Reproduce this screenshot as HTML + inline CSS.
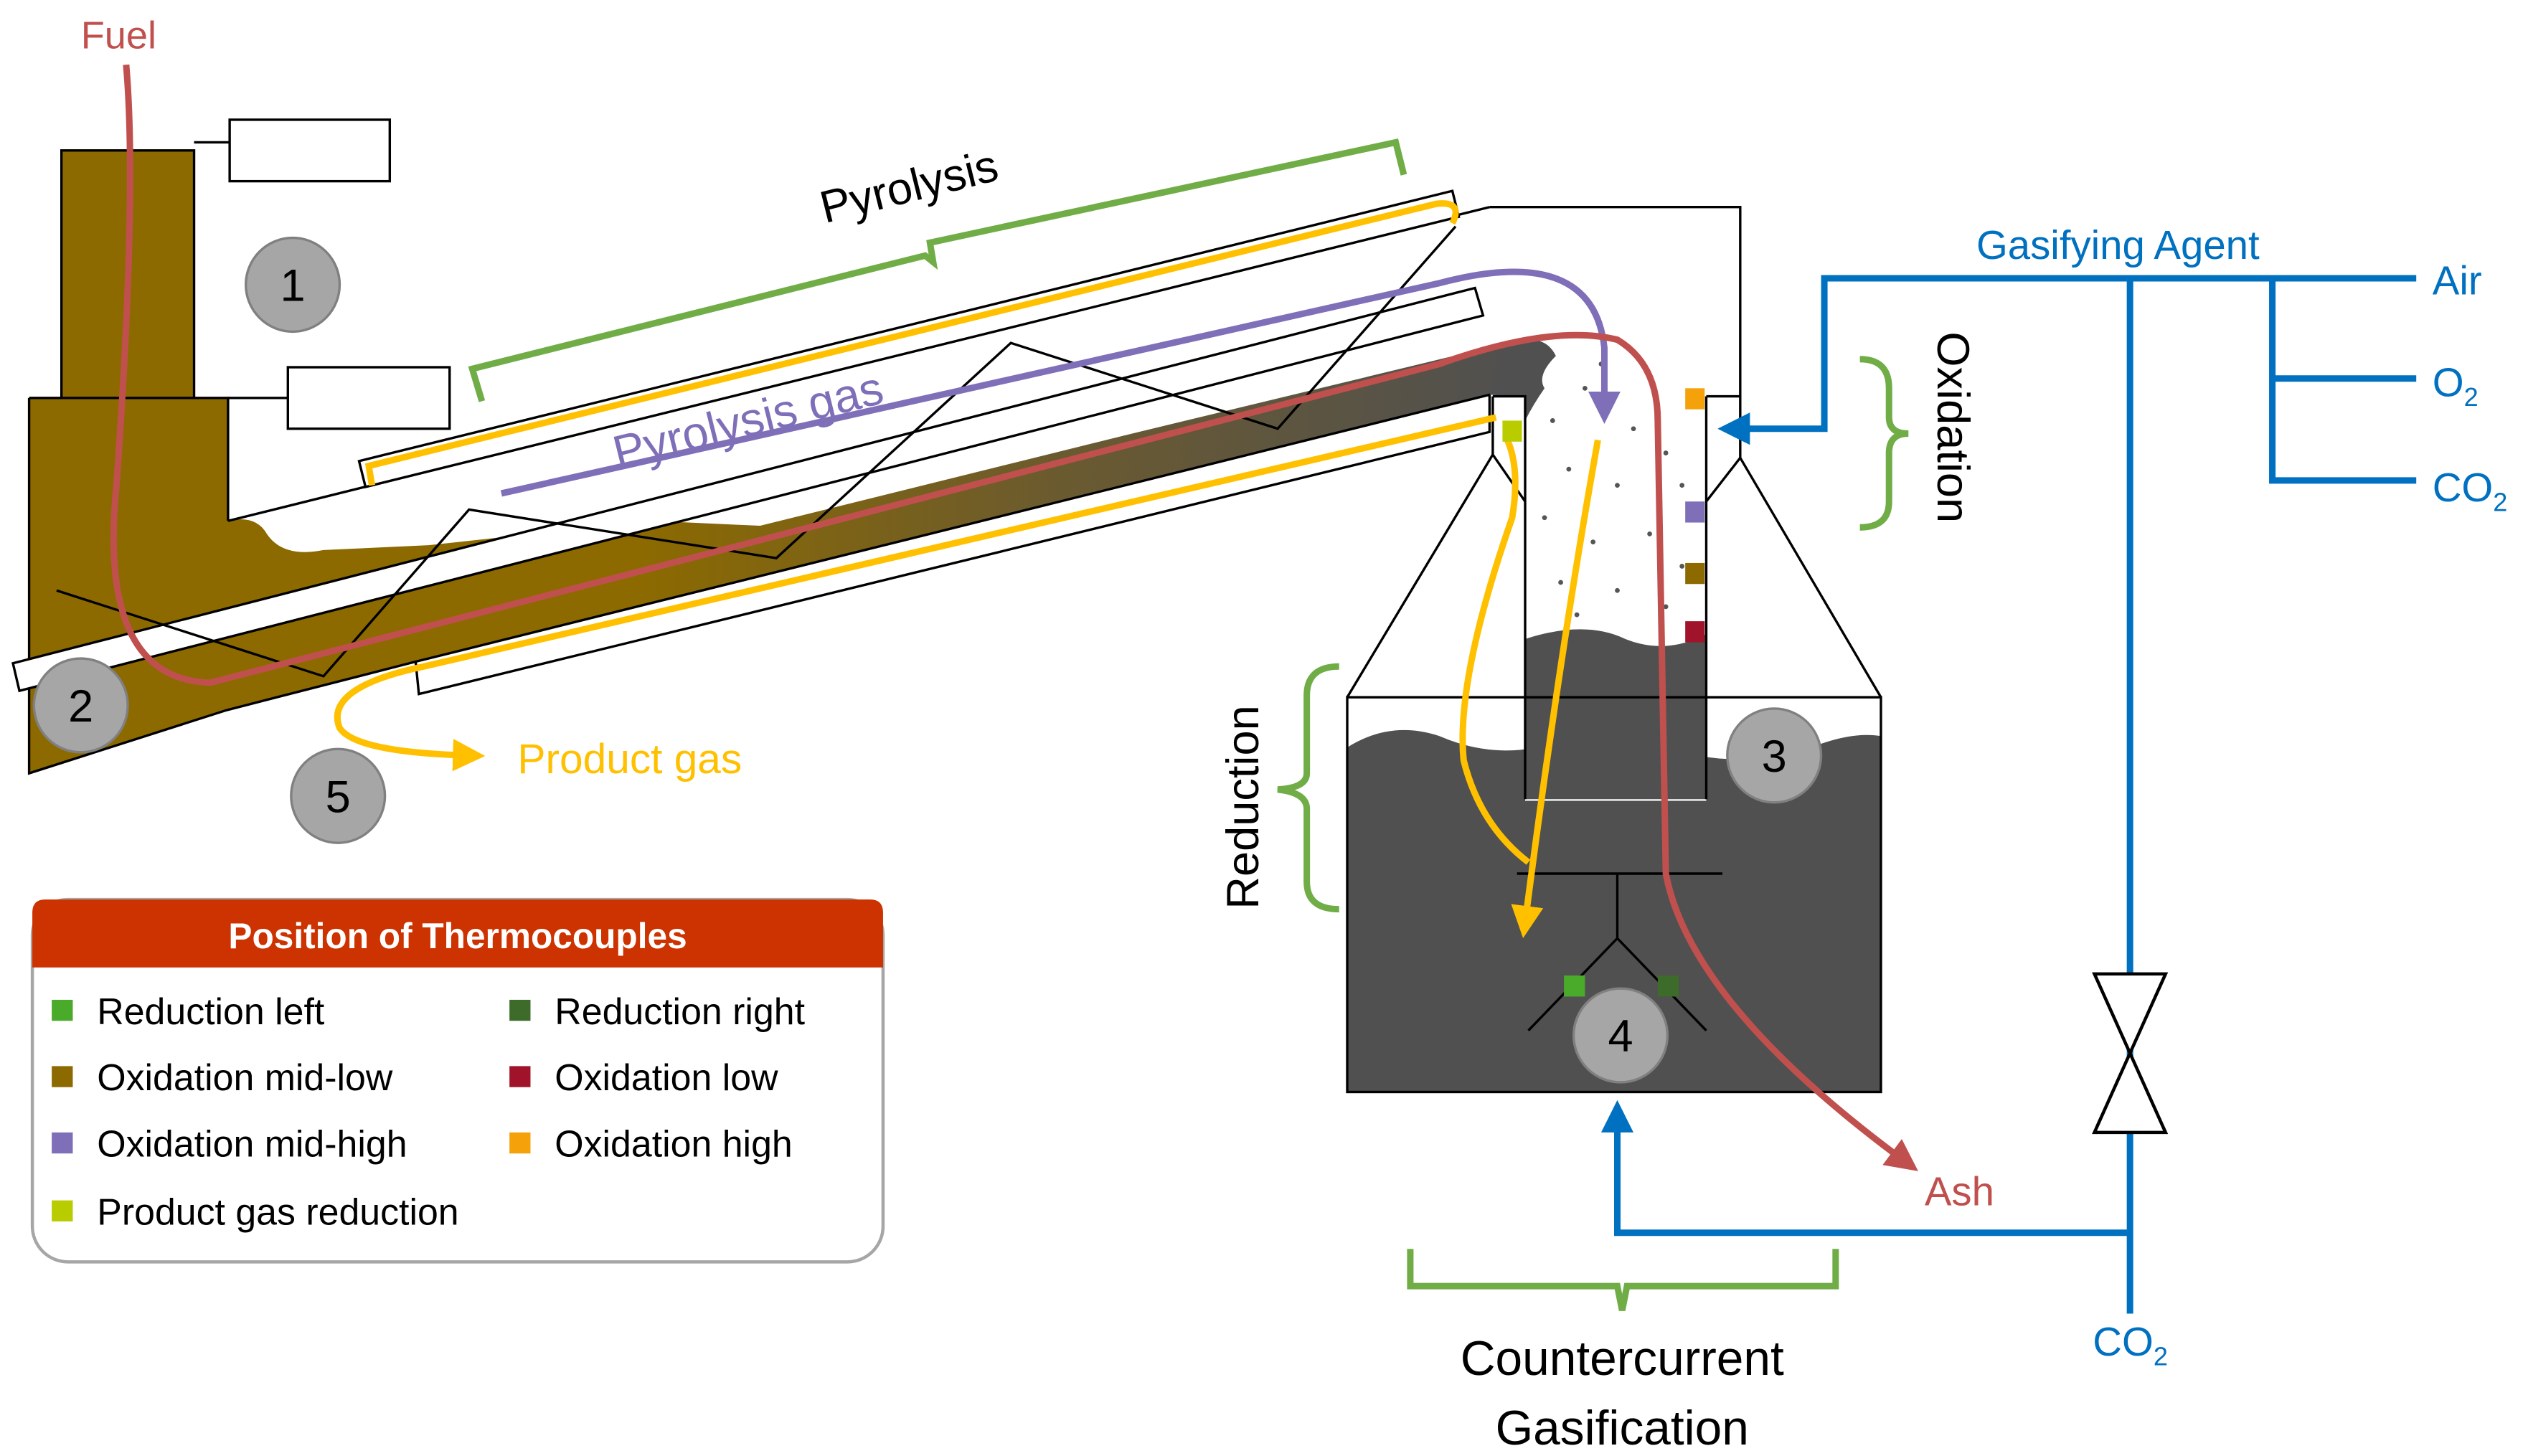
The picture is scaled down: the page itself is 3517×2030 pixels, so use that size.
<!DOCTYPE html>
<html><head><meta charset="utf-8"><style>
html,body{margin:0;padding:0;background:#fff;}
svg{display:block;}
text{font-family:"Liberation Sans",sans-serif;}
</style></head><body>
<svg width="3517" height="2030" viewBox="0 0 1560 900" preserveAspectRatio="none" xmlns="http://www.w3.org/2000/svg">
<defs>
<linearGradient id="bg" gradientUnits="userSpaceOnUse" x1="0" x2="940" y1="0" y2="0">
<stop offset="0" stop-color="#8c6a00"/><stop offset="0.42" stop-color="#8c6a00"/><stop offset="0.7" stop-color="#6a5a30"/><stop offset="1" stop-color="#505050"/>
</linearGradient>
<marker id="ar" viewBox="0 0 10 10" refX="5" refY="5" markerWidth="5" markerHeight="5" orient="auto"><path d="M0,0L10,5L0,10z" fill="#c0504d"/></marker>
<marker id="ay" viewBox="0 0 10 10" refX="5" refY="5" markerWidth="5" markerHeight="5" orient="auto"><path d="M0,0L10,5L0,10z" fill="#ffc000"/></marker>
<marker id="ap" viewBox="0 0 10 10" refX="5" refY="5" markerWidth="5" markerHeight="5" orient="auto"><path d="M0,0L10,5L0,10z" fill="#7f6fb8"/></marker>
<marker id="ab" viewBox="0 0 10 10" refX="5" refY="5" markerWidth="5" markerHeight="5" orient="auto"><path d="M0,0L10,5L0,10z" fill="#0070c0"/></marker>
</defs>

<!-- hopper -->
<rect x="38" y="93" width="82" height="155" fill="#8c6a00" stroke="#000" stroke-width="1.5"/>
<rect x="142" y="74" width="99" height="38" fill="#fff" stroke="#000" stroke-width="1.5"/>
<rect x="178" y="227" width="100" height="38" fill="#fff" stroke="#000" stroke-width="1.5"/>
<line x1="120" y1="88" x2="142" y2="88" stroke="#000" stroke-width="1.5"/>
<line x1="141" y1="246" x2="178" y2="246" stroke="#000" stroke-width="1.5"/>
<!-- brown body -->
<path d="M18,246 L141,246 L141,322 Q158,318 165,330 Q175,345 200,340 L265,337 Q330,330 404,322 L470,325 L700,268 L932,212 Q950,212 943,245 L921,244 L257,409 L140,439 L18,478 Z" fill="url(#bg)" stroke="none"/>
<polyline points="18,246 141,246 141,322" fill="none" stroke="#000" stroke-width="1.5"/>
<polyline points="18,246 18,478 140,439 257,409" fill="none" stroke="#000" stroke-width="1.5"/>
<!-- housing & tubes -->
<line x1="141" y1="322" x2="921" y2="128" stroke="#000" stroke-width="1.5"/>
<polygon points="222,285 898,118 902,134 226,301" fill="#fff" stroke="#000" stroke-width="1.5"/>
<polygon points="8,410 912,178 917,195 12,427" fill="#fff" stroke="#000" stroke-width="1.5"/>
<polygon points="257,409 921,244 921,267 259,429" fill="#fff" stroke="#000" stroke-width="1.5"/>
<polyline points="35,365 200,418 290,315 480,345 625,212 790,265 900,140" fill="none" stroke="#000" stroke-width="1.5"/>
<!-- gasifier -->
<polyline points="921,128 1076,128 1076,245 1055,245" fill="none" stroke="#000" stroke-width="1.5"/>
<polygon points="923,281 833,431 833,675 1163,675 1163,431 1076,283 1055,310 1055,494 943,494 943,310" fill="#fff" stroke="none"/>
<path d="M833,462 Q860,445 890,455 Q920,468 950,462 Q1000,452 1040,465 Q1080,475 1120,462 Q1145,452 1163,455 L1163,675 L833,675 Z" fill="#505050"/>
<rect x="943" y="245" width="112" height="250" fill="#fff"/>
<path d="M943,395 Q980,383 1005,395 Q1030,405 1055,392 L1055,494 L943,494 Z" fill="#505050"/>
<path d="M921,244 L932,212 Q955,205 962,220 Q950,232 955,240 Q948,250 943,260 L943,245 Z" fill="#505050"/>
<g stroke="#000" stroke-width="1.5" fill="none">
<polyline points="923,245 943,245 943,494"/>
<polyline points="923,245 923,281 943,310"/>
<line x1="923" y1="281" x2="833" y2="431"/>
<line x1="1055" y1="245" x2="1055" y2="494"/>
<polyline points="1076,245 1076,283 1055,310"/>
<line x1="1076" y1="283" x2="1163" y2="431"/>
<rect x="833" y="431" width="330" height="244"/>
<line x1="938" y1="540" x2="1065" y2="540"/><line x1="1000" y1="540" x2="1000" y2="580"/>
<polyline points="945,637 1000,580 1055,637"/>
</g>
<g fill="#555">
<circle cx="960" cy="260" r="1.5"/><circle cx="980" cy="240" r="1.5"/><circle cx="1010" cy="265" r="1.5"/><circle cx="970" cy="290" r="1.5"/><circle cx="1000" cy="300" r="1.5"/><circle cx="1030" cy="280" r="1.5"/><circle cx="955" cy="320" r="1.5"/><circle cx="985" cy="335" r="1.5"/><circle cx="1020" cy="330" r="1.5"/><circle cx="965" cy="360" r="1.5"/><circle cx="1000" cy="365" r="1.5"/><circle cx="1040" cy="350" r="1.5"/><circle cx="975" cy="380" r="1.5"/><circle cx="1030" cy="375" r="1.5"/><circle cx="1040" cy="300" r="1.5"/><circle cx="990" cy="225" r="1.5"/>
</g>
<!-- blue lines -->
<g stroke="#0070c0" stroke-width="4" fill="none">
<polyline points="1494,172 1128,172 1128,265 1072,265" marker-end="url(#ab)"/>
<polyline points="1405,172 1405,297 1494,297"/><line x1="1405" y1="234" x2="1494" y2="234"/>
<line x1="1317" y1="172" x2="1317" y2="812"/>
<polyline points="1317,762 1000,762 1000,690" marker-end="url(#ab)"/>
</g>
<polygon points="1295,602 1339,602 1295,700 1339,700" fill="#fff" stroke="#000" stroke-width="2"/>
<text x="1222" y="160" font-size="25" fill="#0070c0">Gasifying Agent</text>
<text x="1504" y="182" font-size="25" fill="#0070c0">Air</text>
<text x="1504" y="245" font-size="25" fill="#0070c0">O<tspan font-size="16" dy="6">2</tspan></text>
<text x="1504" y="310" font-size="25" fill="#0070c0">CO<tspan font-size="16" dy="6">2</tspan></text>
<text x="1294" y="838" font-size="25" fill="#0070c0">CO<tspan font-size="16" dy="6">2</tspan></text>
<!-- yellow -->
<g stroke="#ffc000" stroke-width="4" fill="none">
<path d="M230,300 L228,288 L888,126 Q905,124 898,138"/>
<path d="M925,258 L262,412 Q200,425 210,450 Q220,465 290,467" marker-end="url(#ay)"/>
<path d="M932,272 Q940,290 935,320 Q900,420 905,470 Q915,510 945,533"/>
<path d="M988,272 Q965,400 943,570" marker-end="url(#ay)"/>
</g>
<text x="320" y="478" font-size="26" fill="#ffc000">Product gas</text>
<!-- purple -->
<path d="M310,305 L890,175 Q985,150 992,215 L992,252" fill="none" stroke="#7f6fb8" stroke-width="4" marker-end="url(#ap)"/>
<text x="382" y="290" font-size="29" fill="#7f6fb8" transform="rotate(-14 382 290)">Pyrolysis gas</text>
<!-- red -->
<path d="M78,40 Q85,120 72,300 Q60,420 130,422 L890,225 Q960,200 1000,210 Q1025,225 1025,260 L1030,540 Q1045,620 1178,718" fill="none" stroke="#c0504d" stroke-width="4" marker-end="url(#ar)"/>
<text x="50" y="30" font-size="24" fill="#c0504d">Fuel</text>
<text x="1190" y="745" font-size="25" fill="#c0504d">Ash</text>
<!-- thermocouples -->
<rect x="1042" y="240" width="12" height="13" fill="#f4a10a"/>
<rect x="1042" y="310" width="12" height="13" fill="#7f6fb8"/>
<rect x="1042" y="348" width="12" height="13" fill="#8c6a00"/>
<rect x="1042" y="384" width="12" height="13" fill="#a0132b"/>
<rect x="929" y="260" width="12" height="13" fill="#b8cc00"/>
<rect x="967" y="603" width="13" height="13" fill="#4aaa2a"/>
<rect x="1025" y="603" width="13" height="13" fill="#3d6b2a"/>
<!-- circles -->
<g fill="#a6a6a6" stroke="#808080" stroke-width="1.5">
<circle cx="181" cy="176" r="29"/><circle cx="50" cy="436" r="29"/><circle cx="209" cy="492" r="29"/><circle cx="1097" cy="467" r="29"/><circle cx="1002" cy="640" r="29"/>
</g>
<g font-size="28" text-anchor="middle" fill="#000">
<text x="181" y="186">1</text><text x="50" y="446">2</text><text x="209" y="502">5</text><text x="1097" y="477">3</text><text x="1002" y="650">4</text>
</g>
<!-- green brackets -->
<g stroke="#70ad47" stroke-width="4" fill="none">
<path d="M298,248 L292,228 L572,158 L577,162 L575,150 L863,88 L868,108"/>
<path d="M1150,222 Q1168,222 1168,240 L1168,258 Q1168,268 1180,268 Q1168,268 1168,280 L1168,310 Q1168,326 1150,326"/>
<path d="M828,412 Q808,412 808,430 L808,478 Q808,487 790,488 Q808,490 808,500 L808,545 Q808,562 828,562"/>
<path d="M872,772 L872,795 L1000,795 L1003,810 L1006,795 L1135,795 L1135,772"/>
</g>
<text x="510" y="138" font-size="28" fill="#000" transform="rotate(-14 510 138)">Pyrolysis</text>
<text x="1198" y="205" font-size="28" fill="#000" transform="rotate(90 1198 205)">Oxidation</text>
<text x="778" y="562" font-size="28" fill="#000" transform="rotate(-90 778 562)">Reduction</text>
<text x="1003" y="850" font-size="30" text-anchor="middle" fill="#000">Countercurrent</text>
<text x="1003" y="893" font-size="30" text-anchor="middle" fill="#000">Gasification</text>
<!-- legend -->
<rect x="20" y="556" width="526" height="224" rx="22" fill="#fff" stroke="#a6a6a6" stroke-width="2"/>
<path d="M28,556 L538,556 Q546,556 546,564 L546,598 L20,598 L20,564 Q20,556 28,556 Z" fill="#cc3300"/>
<text x="283" y="586" font-size="22" font-weight="bold" fill="#fff" text-anchor="middle">Position of Thermocouples</text>
<g font-size="23" fill="#000">
<rect x="32" y="618" width="13" height="13" fill="#4aaa2a"/><text x="60" y="633">Reduction left</text>
<rect x="315" y="618" width="13" height="13" fill="#3d6b2a"/><text x="343" y="633">Reduction right</text>
<rect x="32" y="659" width="13" height="13" fill="#8c6a00"/><text x="60" y="674">Oxidation mid-low</text>
<rect x="315" y="659" width="13" height="13" fill="#a0132b"/><text x="343" y="674">Oxidation low</text>
<rect x="32" y="700" width="13" height="13" fill="#7f6fb8"/><text x="60" y="715">Oxidation mid-high</text>
<rect x="315" y="700" width="13" height="13" fill="#f4a10a"/><text x="343" y="715">Oxidation high</text>
<rect x="32" y="742" width="13" height="13" fill="#b8cc00"/><text x="60" y="757">Product gas reduction</text>
</g>
</svg>
</body></html>
